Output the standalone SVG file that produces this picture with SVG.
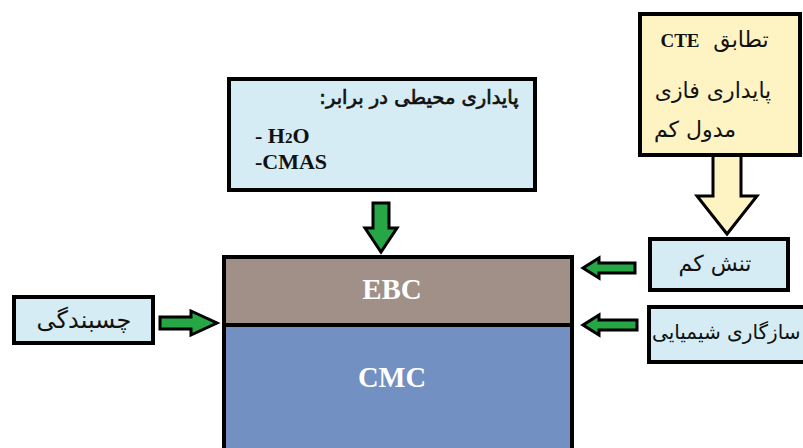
<svg xmlns="http://www.w3.org/2000/svg" width="803" height="448" viewBox="0 0 803 448">
<style>
.box{stroke:#000;stroke-width:4}
.blue{fill:#d5ecf4}
.yel{fill:#fdf3c3}
.fa{font-family:"DejaVu Sans",sans-serif;fill:#111}
.la{font-family:"Liberation Serif",serif;font-weight:bold;fill:#111}
.lay{font-family:"Liberation Serif",serif;font-weight:bold;fill:#fff}
.garr{fill:#27a646;stroke:#000;stroke-width:3;stroke-linejoin:miter}
.yarr{fill:#fdf3c3;stroke:#000;stroke-width:3;stroke-linejoin:miter}
</style>
<rect width="803" height="448" fill="#fff"/>
<g id="connectors">
<polygon class="yarr" points="713,155 741,155 741,196 757,196 727,234 697,196 713,196"/>
<polygon class="garr" points="373,203 389,203 389,228 397,228 381,252 365,228 373,228"/>
<polygon class="garr" points="160,317 191,317 191,311 217,323 191,335 191,329 160,329"/>
<polygon class="garr" points="635,263 599,263 599,258 583,268 599,278 599,273 635,273"/>
<polygon class="garr" points="637,320 599,320 599,315 583,325 599,335 599,330 637,330"/>
</g>
<g id="node-layers">
<rect x="224" y="257" width="348" height="68" fill="#a09087" class="box"/>
<rect x="224" y="325" width="348" height="130" fill="#7290c1" class="box"/>
<text class="lay" x="392" y="299" font-size="29" text-anchor="middle">EBC</text>
<text class="lay" x="392" y="387" font-size="28.5" text-anchor="middle">CMC</text>
</g>
<g id="node-env">
<rect x="229" y="79" width="306" height="111" class="box blue"/>
<text class="fa" x="419" y="104" font-size="19.5" stroke="#111" stroke-width="0.7" direction="rtl" text-anchor="middle">پایداری محیطی در برابر:</text>
<text class="la" x="255" y="143" font-size="22">- H<tspan font-size="15">2</tspan>O</text>
<text class="la" x="255" y="169" font-size="22">-CMAS</text>
</g>
<g id="node-cte">
<rect x="640" y="14" width="160" height="141" class="box yel"/>
<text class="la" x="680" y="47" font-size="19" text-anchor="middle">CTE</text>
<text class="fa" x="741" y="47" font-size="22" text-anchor="middle">تطابق</text>
<text class="fa" x="713" y="98" font-size="22" text-anchor="middle">پایداری فازی</text>
<text class="fa" x="695" y="137" font-size="22" text-anchor="middle">مدول کم</text>
</g>
<g id="node-stress">
<rect x="650" y="239" width="138" height="51" class="box blue"/>
<text class="fa" x="715" y="271" font-size="22" text-anchor="middle">تنش کم</text>
</g>
<g id="node-chem">
<rect x="649" y="307" width="170" height="55" class="box blue"/>
<text class="fa" x="652" y="339" font-size="20">سازگاری شیمیایی</text>
</g>
<g id="node-adhesion">
<rect x="14" y="297" width="139" height="46" class="box blue"/>
<text class="fa" x="84" y="328" font-size="24" text-anchor="middle">چسبندگی</text>
</g>
</svg>
